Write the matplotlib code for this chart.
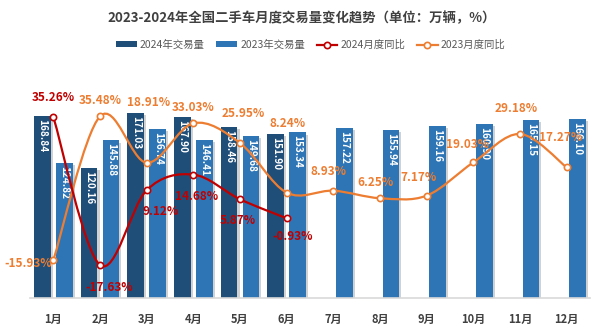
import matplotlib
matplotlib.use("Agg")
import matplotlib.pyplot as plt
import matplotlib.patheffects as pe
from matplotlib.path import Path
from matplotlib.patches import PathPatch, Patch
from matplotlib.lines import Line2D

plt.rcParams["font.family"] = ["Noto Sans CJK SC", "DejaVu Sans"]

months = ["1月", "2月", "3月", "4月", "5月", "6月",
          "7月", "8月", "9月", "10月", "11月", "12月"]
vol_2024 = [168.84, 120.16, 171.03, 167.90, 158.46, 151.90]
vol_2023 = [124.82, 145.88, 156.74, 146.41, 149.68, 153.34,
            157.22, 155.94, 159.16, 160.90, 165.15, 166.10]
yoy_2024 = [35.26, -17.63, 9.12, 14.68, 5.87, -0.93]
yoy_2023 = [-15.93, 35.48, 18.91, 33.03, 25.95, 8.24,
            8.93, 6.25, 7.17, 19.03, 29.18, 17.27]

# label placement (pixel offsets from each point)
off_2024 = [(0, 19), (9, -22), (14, -21), (3, -22), (-2, -21), (6, -18)]
off_2023 = [(-25, -3), (0, 16), (2, 60), (0, 16), (3, 30), (1, 69),
            (-5, 19), (-4, 16), (-8, 18), (-6, 18), (-4, 26), (-6, 30)]

C_BAR24 = "#1F4E79"
C_BAR23 = "#2E75B6"
C_LINE24 = "#C00000"
C_LINE23 = "#ED7D31"
C_TEXT = "#404040"


def smooth_path(xs, ys):
    """Catmull-Rom style cubic Bezier path through the points."""
    pts = list(zip(xs, ys))
    n = len(pts)
    verts = [pts[0]]
    codes = [Path.MOVETO]
    for i in range(n - 1):
        p0 = pts[i - 1] if i > 0 else pts[i]
        p1 = pts[i]
        p2 = pts[i + 1]
        p3 = pts[i + 2] if i + 2 < n else pts[i + 1]
        c1 = (p1[0] + (p2[0] - p0[0]) / 6, p1[1] + (p2[1] - p0[1]) / 6)
        c2 = (p2[0] - (p3[0] - p1[0]) / 6, p2[1] - (p3[1] - p1[1]) / 6)
        verts += [c1, c2, p2]
        codes += [Path.CURVE4] * 3
    return Path(verts, codes)


fig = plt.figure(figsize=(6, 3.35), dpi=100)
ax = fig.add_axes([0.05, 0.1104, 0.9333, 0.7104])
ax2 = ax.twinx()

x = list(range(len(months)))
x24 = [i - 0.235 for i in range(len(vol_2024))]
x23 = [i + 0.235 for i in x]
w = 0.36
shadow = [pe.SimplePatchShadow(offset=(1.5, -1.5), shadow_rgbFace="#999999", alpha=0.45), pe.Normal()]

ax.bar(x24, vol_2024, width=w, color=C_BAR24, path_effects=shadow, zorder=2)
ax.bar(x23, vol_2023, width=w, color=C_BAR23, path_effects=shadow, zorder=2)

for xs, vals in ((x24, vol_2024), (x23, vol_2023)):
    for xi, v in zip(xs, vals):
        ax.annotate(f"{v:.2f}", (xi, v), xytext=(0, -3), textcoords="offset pixels",
                    rotation=-90, ha="center", va="top", color="white",
                    fontsize=7.2, fontweight="bold", zorder=3)

ax.set_xlim(-0.5, 11.5)
ax.set_ylim(0, 220.4)
ax2.set_ylim(-29.4, 55.6)

for a in (ax, ax2):
    for s in ("top", "right", "left"):
        a.spines[s].set_visible(False)
    a.set_yticks([])
ax2.spines["bottom"].set_visible(False)
ax.spines["bottom"].set_color("#D9D9D9")
ax.spines["bottom"].set_linewidth(1.2)
ax.set_xticks(x)
ax.set_xticklabels(months, fontsize=8, fontweight="bold", color=C_TEXT)
ax.tick_params(axis="x", length=0, pad=11)

for xs, vals, col, offs in ((x[:len(yoy_2023)], yoy_2023, C_LINE23, off_2023),
                            (x[:len(yoy_2024)], yoy_2024, C_LINE24, off_2024)):
    ax2.add_patch(PathPatch(smooth_path(xs, vals), fill=False, edgecolor=col, lw=1.6, zorder=4))
    ax2.plot(xs, vals, ls="none", marker="o", ms=4.5, mfc="white", mec=col, mew=1.2, zorder=5)
    for xi, v, (dx, dy) in zip(xs, vals, offs):
        ax2.annotate(f"{v:.2f}%", (xi, v), xytext=(dx, dy), textcoords="offset pixels",
                     ha="center", va="center", color=col, fontsize=8.5,
                     fontweight="bold", zorder=6)

fig.text(0.502, 0.946, "2023-2024年全国二手车月度交易量变化趋势（单位：万辆，%）",
         ha="center", va="center", fontsize=9.6, fontweight="bold", color=C_TEXT)

handles = [
    Patch(facecolor=C_BAR24, label="2024年交易量"),
    Patch(facecolor=C_BAR23, label="2023年交易量"),
    Line2D([], [], color=C_LINE24, lw=1.6, marker="o", ms=4.5, mfc="white", mew=1.2,
           label="2024月度同比"),
    Line2D([], [], color=C_LINE23, lw=1.6, marker="o", ms=4.5, mfc="white", mew=1.2,
           label="2023月度同比"),
]
leg = fig.legend(handles=handles, loc="center", bbox_to_anchor=(0.518, 0.866), ncol=4,
                 frameon=False, fontsize=7.5, handlelength=2.0, handleheight=0.55,
                 columnspacing=1.1, handletextpad=0.3)
for t in leg.get_texts():
    t.set_color("#595959")

fig.savefig("out.png", dpi=100)
